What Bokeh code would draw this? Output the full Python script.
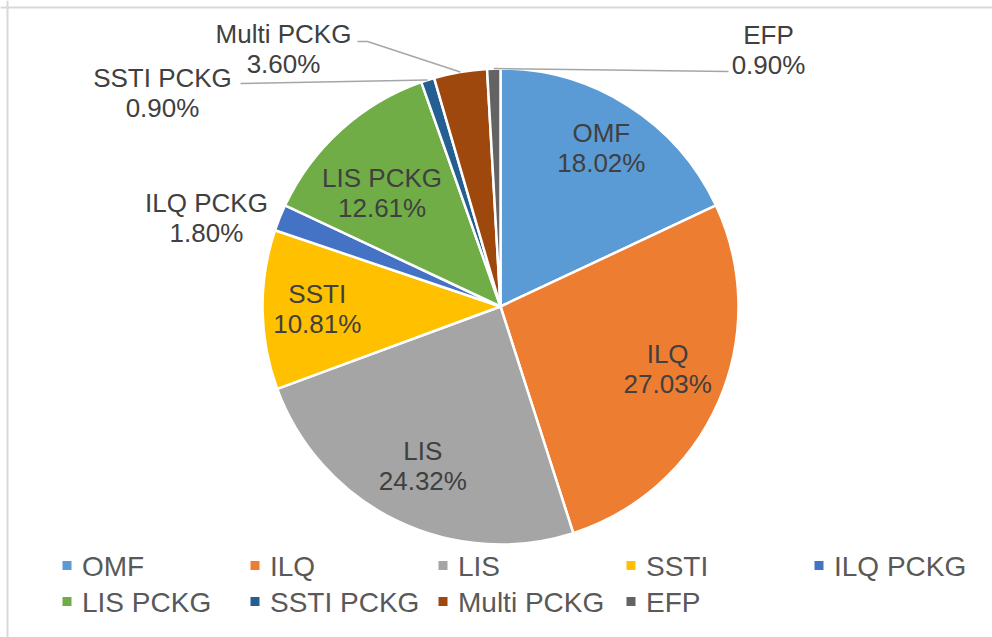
import math
from bokeh.plotting import figure
from bokeh.models import Range1d, Span, ColumnDataSource
from bokeh.core.properties import value
from bokeh.embed import file_html
from bokeh.resources import INLINE

# ---- data ----
names = ["OMF", "ILQ", "LIS", "SSTI", "ILQ PCKG", "LIS PCKG", "SSTI PCKG", "Multi PCKG", "EFP"]
shares = [18.02, 27.03, 24.32, 10.81, 1.80, 12.61, 0.90, 3.60, 0.90]
colors = ["#5B9BD5", "#ED7D31", "#A5A5A5", "#FFC000", "#4472C4",
          "#70AD47", "#255E91", "#9E480E", "#636363"]

# ---- layout (page pixels; data y = -page y) ----
W, H = 992, 637
CX, CY, R = 500, 306, 238
FONT = value("Liberation Sans")

p = figure(width=W, height=H, output_backend="svg", toolbar_location=None,
           x_range=Range1d(0, W), y_range=Range1d(-H, 0),
           min_border=0, x_axis_location=None, y_axis_location=None,
           outline_line_color=None)
p.grid.visible = False
p.background_fill_color = "white"
p.border_fill_color = "white"

# chart-area border (only top and left visible)
p.add_layout(Span(location=-7, dimension="width", line_color="#d9d9d9", line_width=2))
p.add_layout(Span(location=7, dimension="height", line_color="#d9d9d9", line_width=2))

total = sum(shares)
fr = [s / total for s in shares]
starts, ends, mids = [], [], []
c = 0.0
for f in fr:
    starts.append(c)
    mids.append(c + f / 2)
    c += f
    ends.append(c)

src = ColumnDataSource(dict(
    name=names, color=colors,
    start=[math.pi / 2 - 2 * math.pi * s for s in starts],
    end=[math.pi / 2 - 2 * math.pi * e for e in ends],
))
p.wedge(x=CX, y=-CY, radius=R, start_angle="start", end_angle="end",
        direction="clock", fill_color="color", line_color="white",
        line_width=2.5, source=src)


def polar(frac, dist, nudge_deg=0.0):
    th = 2 * math.pi * frac + math.radians(nudge_deg)
    return CX + dist * math.sin(th), -CY + dist * math.cos(th)


labels = [f"{n}\n{s:.2f}%" for n, s in zip(names, shares)]

# inside labels: index -> (radius factor, angle nudge)
inside = {0: (0.79, 0), 1: (0.75, -3), 2: (0.745, 0), 3: (0.77, 0), 5: (0.69, -4)}
lx, ly, lt = [], [], []
for i, (k, nd) in inside.items():
    x, y = polar(mids[i], R * k, nd)
    lx.append(x); ly.append(y); lt.append(labels[i])

# outside labels: index -> label centre (page px), leader anchor points
outside = {4: ((206, 217), []),
           6: ((162, 92), [(240, 83)]),
           7: ((283, 48), [(357, 41), (367, 41)]),
           8: ((768, 49), [(728, 71)])}
lead_xs, lead_ys = [], []
for i, ((px, py), anchors) in outside.items():
    lx.append(px); ly.append(-py); lt.append(labels[i])
    if anchors:
        ex, ey = polar(mids[i], R)
        lead_xs.append([a[0] for a in anchors] + [ex])
        lead_ys.append([-a[1] for a in anchors] + [ey])

p.multi_line(xs=lead_xs, ys=lead_ys, line_color="#a6a6a6", line_width=1.5)
p.text(x=lx, y=ly, text=lt, text_font=FONT, text_font_size="26px",
       text_color="#404040", text_align="center", text_baseline="middle",
       text_line_height=1.0)

# ---- legend (manual grid: 5 columns) ----
MX0, COLW, ROW0, ROWH, MS = 66.5, 188, 565, 36, 9
mx, my, tx, ty, mc, tt = [], [], [], [], [], []
for i, n in enumerate(names):
    col, row = i % 5, i // 5
    mx.append(MX0 + COLW * col)
    my.append(-(ROW0 + ROWH * row))
    tx.append(MX0 + COLW * col + 15)
    ty.append(-(ROW0 + 1 + ROWH * row))
    mc.append(colors[i]); tt.append(n)
p.rect(x=mx, y=my, width=MS, height=MS, fill_color=mc, line_color=None)
p.text(x=tx, y=ty, text=tt, text_font=FONT, text_font_size="28px",
       text_color="#595959", text_align="left", text_baseline="middle")

open("out.html", "w").write(file_html(p, INLINE))
